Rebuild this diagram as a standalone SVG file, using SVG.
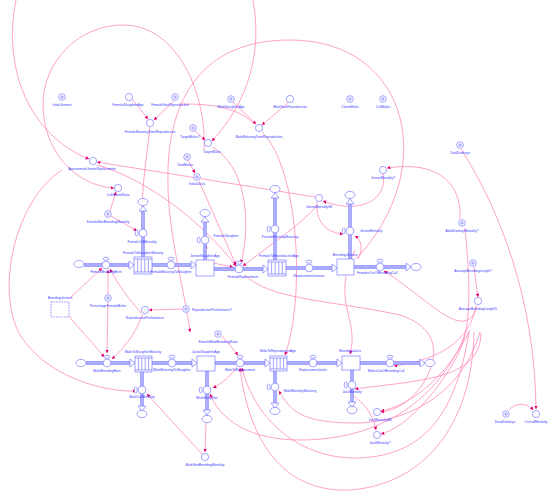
<svg xmlns="http://www.w3.org/2000/svg" width="550" height="501" viewBox="0 0 550 501">
<style>
.c{fill:none;stroke:#ff8cbc;stroke-width:0.8}
.n{fill:#fff;stroke:#7c7cff;stroke-width:0.7}
.pl{fill:none;stroke:#7c7cff;stroke-width:0.7}
.pp{fill:none;stroke:#8686ff;stroke-width:3.4}
.pi{fill:none;stroke:#d0d0ff;stroke-width:1.1}
.ah{fill:#fff;stroke:#7c7cff;stroke-width:0.7}
.t{font-family:"Liberation Sans",Arial,sans-serif;font-size:3.3px;fill:#3a3aff;text-anchor:middle}
.d{fill:#fff;stroke:#6a6aff;stroke-width:0.7;stroke-dasharray:1.6,1}
</style>
<defs>
<marker id="a" viewBox="0 0 4 4" refX="3.8" refY="2" markerWidth="3.6" markerHeight="3.6" markerUnits="userSpaceOnUse" orient="auto"><path d="M0,0L4,2L0,4z" fill="#e6006e"/></marker>
<g id="kon"><circle class="n" r="3.3"/><path class="pl" d="M-2,0H2M0,-2V2"/></g>
<g id="aux"><circle class="n" r="3.6"/></g>
<g id="vh"><circle class="n" r="3.9"/><ellipse class="n" cx="0" cy="-6.3" rx="3" ry="1.5"/></g>
<g id="vv"><circle class="n" r="3.9"/><ellipse class="n" cx="-6.3" cy="0" rx="1.5" ry="3"/></g>
<g id="cl"><ellipse class="n" rx="5" ry="3.6"/></g>
</defs>

<g id="connectors">
<path class="c" marker-end="url(#a)" d="M16,0C2,70 30,135 89,159"/>
<path class="c" marker-end="url(#a)" d="M204,150C207,95 178,25 123,25C79,25 43,61 43,105C43,150 75,186 114,188"/>
<path class="c" marker-end="url(#a)" d="M356,259C440,170 410,40 290,40C205,40 170,95 168,170C166,230 185,290 190,332"/>
<path class="c" marker-end="url(#a)" d="M253,0C262,50 250,100 212,141"/>
<path class="c" marker-end="url(#a)" d="M62,170C15,200 -5,290 20,335C45,375 100,392 136,391"/>
<path class="c" marker-end="url(#a)" d="M110,211L116,192"/>
<path class="c" marker-end="url(#a)" d="M111,216L137,231"/>
<path class="c" marker-end="url(#a)" d="M70,298L102,268"/>
<path class="c" marker-end="url(#a)" d="M108,295L108,270"/>
<path class="c" marker-end="url(#a)" d="M108,302L107,353"/>
<path class="c" marker-end="url(#a)" d="M69,316C80,330 95,345 104,357"/>
<path class="c" marker-end="url(#a)" d="M141,313C130,300 118,285 110,269"/>
<path class="c" marker-end="url(#a)" d="M143,314Q132,342 112,359"/>
<path class="c" marker-end="url(#a)" d="M183,309L149,310"/>
<path class="c" marker-end="url(#a)" d="M97,165C150,180 205,225 236,266"/>
<path class="c" marker-end="url(#a)" d="M315,197L97,162"/>
<path class="c" marker-end="url(#a)" d="M383,174C388,200 360,215 323,201"/>
<path class="c" marker-end="url(#a)" d="M317,202C315,225 330,233 343,234"/>
<path class="c" marker-end="url(#a)" d="M358,259C363,250 362,240 355,236"/>
<path class="c" marker-end="url(#a)" d="M460,219C462,185 440,160 387,168"/>
<path class="c" marker-end="url(#a)" d="M474,267L478,297"/>
<path class="c" marker-end="url(#a)" d="M461,149C500,210 535,300 536,409"/>
<path class="c" marker-end="url(#a)" d="M509,410C516,402 528,403 533,410"/>
<path class="c" marker-end="url(#a)" d="M195,131L205,140"/>
<path class="c" marker-end="url(#a)" d="M188,160L195,173"/>
<path class="c" marker-end="url(#a)" d="M132,99L148,119"/>
<path class="c" marker-end="url(#a)" d="M174,101L154,120"/>
<path class="c" marker-end="url(#a)" d="M233,102L256,124"/>
<path class="c" marker-end="url(#a)" d="M288,103L262,125"/>
<path class="c" d="M180,104C200,104 235,104 254,124"/>
<path class="c" marker-end="url(#a)" d="M262,132C300,170 305,300 285,355"/>
<path class="c" marker-end="url(#a)" d="M150,127C145,170 140,200 143,228"/>
<path class="c" marker-end="url(#a)" d="M199,181L236,265"/>
<path class="c" marker-end="url(#a)" d="M212,147C245,165 252,220 241,263"/>
<path class="c" marker-end="url(#a)" d="M213,263L233,267"/>
<path class="c" marker-end="url(#a)" d="M317,206C300,225 270,245 243,266"/>
<path class="c" marker-end="url(#a)" d="M237,367Q228,380 213,388"/>
<path class="c" marker-end="url(#a)" d="M207,396L205,452"/>
<path class="c" marker-end="url(#a)" d="M202,454L147,394"/>
<path class="c" marker-end="url(#a)" d="M222,336L238,355"/>
<path class="c" marker-end="url(#a)" d="M207,372L207,385"/>
<path class="c" marker-end="url(#a)" d="M205,261L206,245"/>
<path class="c" marker-end="url(#a)" d="M476,306C470,340 440,360 394,366"/>
<path class="c" marker-end="url(#a)" d="M477,306C465,345 430,300 384,271"/>
<path class="c" marker-end="url(#a)" d="M465,228C472,300 470,335 455,360C435,395 405,428 381,434"/>
<path class="c" marker-end="url(#a)" d="M470,330C445,380 410,405 381,411"/>
<path class="c" marker-end="url(#a)" d="M474,332C472,430 420,485 350,490C290,493 250,450 240,368"/>
<path class="c" marker-end="url(#a)" d="M469,332C455,420 420,455 360,458C300,460 255,420 242,368"/>
<path class="c" marker-end="url(#a)" d="M466,332C440,400 380,440 300,440C250,440 220,420 210,394"/>
<path class="c" marker-end="url(#a)" d="M480,332C460,400 400,423 355,423C300,423 290,410 279,391"/>
<path class="c" marker-end="url(#a)" d="M481,333C480,380 420,380 355,389"/>
<path class="c" marker-end="url(#a)" d="M245,275C270,300 330,300 400,315C430,325 440,345 430,370C420,395 400,410 381,412"/>
<path class="c" marker-end="url(#a)" d="M355,250C330,300 360,320 350,354"/>
<path class="c" marker-end="url(#a)" d="M352,395C360,400 372,410 376,430"/>
</g>

<g id="female-chain">
<path class="pp" d="M84,265H131M152,265H193M205,260V221M143,258V209M214,269H265M275,261V196M286,268H334M350,259V202M353,267H408"/>
<path class="pi" d="M84,265H131M152,265H193M205,260V221M143,258V209M214,269H265M275,261V196M286,268H334M350,259V202M353,267H408"/>
<polygon class="ah" points="129,261 134,265 129,269"/>
<polygon class="ah" points="191,261 196,265 191,269"/>
<polygon class="ah" points="201,222 205,217 209,222"/>
<polygon class="ah" points="139,211 143,206 147,211"/>
<polygon class="ah" points="263,265 268,269 263,273"/>
<polygon class="ah" points="271,198 275,193 279,198"/>
<polygon class="ah" points="332,264 337,268 332,272"/>
<polygon class="ah" points="346,204 350,199 354,204"/>
<polygon class="ah" points="406,263 411,267 406,271"/>
</g>
<g id="male-chain">
<path class="pp" d="M86,363H132M152,363H194M207,371V411M142,372V407M215,363H267M275,371V404M287,363H339M352,370V403M360,363H422"/>
<path class="pi" d="M86,363H132M152,363H194M207,371V411M142,372V407M215,363H267M275,371V404M287,363H339M352,370V403M360,363H422"/>
<polygon class="ah" points="130,359 135,363 130,367"/>
<polygon class="ah" points="192,359 197,363 192,367"/>
<polygon class="ah" points="203,410 207,415 211,410"/>
<polygon class="ah" points="138,406 142,411 146,406"/>
<polygon class="ah" points="265,359 270,363 265,367"/>
<polygon class="ah" points="271,403 275,408 279,403"/>
<polygon class="ah" points="337,359 342,363 337,367"/>
<polygon class="ah" points="348,402 352,407 356,402"/>
<polygon class="ah" points="420,359 425,363 420,367"/>
</g>

<g id="clouds">
<use href="#cl" x="79" y="264"/><use href="#cl" x="205" y="213"/><use href="#cl" x="143" y="202"/>
<use href="#cl" x="275" y="189"/><use href="#cl" x="350" y="195"/><use href="#cl" x="416" y="267"/>
<use href="#cl" x="81" y="363"/><use href="#cl" x="207" y="419"/><use href="#cl" x="142" y="414"/>
<use href="#cl" x="275" y="411"/><use href="#cl" x="352" y="410"/><use href="#cl" x="430" y="363"/>
</g>

<g id="FemaleToSlaughterMaturity"><rect class="n" x="134" y="257" width="18" height="17"/><path class="pl" d="M134,259H152M134,272H152M137.6,259V272M141.2,259V272M144.8,259V272M148.4,259V272"/><text class="t" x="143" y="254">FemaleToSlaughterMaturity</text></g>
<g id="JennieSlaughterAge"><rect class="n" x="196" y="260" width="18" height="16"/><text class="t" x="205" y="257">JennieSlaughterAge</text></g>
<g id="FemaleToReproductiveAge"><rect class="n" x="268" y="260" width="18" height="16"/><path class="pl" d="M268,262H286M268,274H286M271.6,262V274M275.2,262V274M278.8,262V274M282.4,262V274"/><text class="t" x="279" y="257">FemaleToReproductiveAge</text></g>
<g id="BreedingJennies"><rect class="n" x="337" y="259" width="17" height="16"/><text class="t" x="345" y="256">BreedingJennies</text></g>
<g id="MaleToSlaughterMaturity"><rect class="n" x="135" y="356" width="17" height="16"/><path class="pl" d="M135,358H152M135,370H152M138.4,358V370M141.8,358V370M145.2,358V370M148.6,358V370"/><text class="t" x="143" y="353">MaleToSlaughterMaturity</text></g>
<g id="JacksSlaughterAge"><rect class="n" x="197" y="356" width="18" height="15"/><text class="t" x="206" y="353">JacksSlaughterAge</text></g>
<g id="MaleToReproductiveAge"><rect class="n" x="270" y="356" width="17" height="15"/><path class="pl" d="M270,358H287M270,369H287M273.4,358V369M276.8,358V369M280.2,358V369M283.6,358V369"/><text class="t" x="278" y="352">MaleToReproductiveAge</text></g>
<g id="BreedingJacks"><rect class="n" x="342" y="356" width="18" height="14"/><text class="t" x="350" y="352">BreedingJacks</text></g>

<g id="FemaleBreedingBorn"><use href="#vh" x="106" y="265"/><text class="t" x="106" y="273">FemaleBreedingBorn</text></g>
<g id="FemaleMaturingToSlaughter"><use href="#vh" x="171" y="265"/><text class="t" x="171" y="273">FemaleMaturingToSlaughter</text></g>
<g id="FemaleSlaughter"><use href="#vv" x="205" y="240"/><text class="t" x="226" y="237">FemaleSlaughter</text></g>
<g id="FemaleCullMortality"><use href="#vv" x="143" y="233"/><text class="t" x="142" y="243">FemaleCullMortality</text></g>
<g id="FemaleReplacement"><use href="#vh" x="239" y="269"/><text class="t" x="243" y="278">FemaleReplacement</text></g>
<g id="FemaleMortalityMaturing"><use href="#vv" x="275" y="229"/><text class="t" x="280" y="238">FemaleMortalityMaturing</text></g>
<g id="ReplacementJennies"><use href="#vh" x="309" y="268"/><text class="t" x="309" y="277">ReplacementJennies</text></g>
<g id="JennieMortality"><use href="#vv" x="350" y="231"/><text class="t" x="371" y="232">JennieMortality</text></g>
<g id="FemalesOutOfBreedingCull"><use href="#vh" x="380" y="267"/><text class="t" x="377" y="274">FemalesOutOfBreedingCull</text></g>

<g id="MaleBreedingBorn"><use href="#vh" x="107" y="363"/><text class="t" x="107" y="372">MaleBreedingBorn</text></g>
<g id="MaleMaturingToSlaughter"><use href="#vh" x="172" y="363"/><text class="t" x="172" y="371">MaleMaturingToSlaughter</text></g>
<g id="MaleSlaughter"><use href="#vv" x="207" y="390"/><text class="t" x="207" y="399">MaleSlaughter</text></g>
<g id="MaleCullMortality"><use href="#vv" x="142" y="390"/><text class="t" x="142" y="398">MaleCullMortality</text></g>
<g id="MaleToReplacement"><use href="#vh" x="240" y="363"/><text class="t" x="240" y="371">MaleToReplacement</text></g>
<g id="MaleMortalityMaturing"><use href="#vv" x="275" y="387"/><text class="t" x="300" y="392">MaleMortalityMaturing</text></g>
<g id="ReplacementJacks"><use href="#vh" x="313" y="363"/><text class="t" x="313" y="371">ReplacementJacks</text></g>
<g id="JackMortality"><use href="#vv" x="352" y="385"/><text class="t" x="352" y="393">JackMortality</text></g>
<g id="MalesOutOfBreedingCull"><use href="#vh" x="390" y="363"/><text class="t" x="386" y="372">MalesOutOfBreedingCull</text></g>

<g id="InitialJennies"><use href="#kon" x="62" y="97"/><text class="t" x="62" y="106">InitialJennies</text></g>
<g id="FemaleSlaughterAge"><use href="#aux" x="129" y="97"/><text class="t" x="128" y="106">FemaleSlaughterAge</text></g>
<g id="FemaleStartReproduction"><use href="#kon" x="175" y="97"/><text class="t" x="170" y="106">FemaleStartReproduction</text></g>
<g id="FemaleMaturingTimeReproduction"><use href="#aux" x="150" y="123"/><text class="t" x="150" y="133">FemaleMaturingTimeReproduction</text></g>
<g id="MaleSlaughterAge"><use href="#kon" x="231" y="99"/><text class="t" x="231" y="108">MaleSlaughterAge</text></g>
<g id="MaleStartReproduction"><use href="#aux" x="290" y="99"/><text class="t" x="290" y="108">MaleStartReproduction</text></g>
<g id="MaleMaturingTimeReproduction"><use href="#aux" x="259" y="128"/><text class="t" x="259" y="138">MaleMaturingTimeReproduction</text></g>
<g id="CleanMales"><use href="#kon" x="350" y="99"/><text class="t" x="350" y="108">CleanMales</text></g>
<g id="CullMales"><use href="#kon" x="383" y="99"/><text class="t" x="383" y="108">CullMales</text></g>
<g id="TargetMalesQ"><use href="#kon" x="193" y="128"/><text class="t" x="190" y="138">TargetMales?</text></g>
<g id="TargetMales"><use href="#aux" x="208" y="143"/><text class="t" x="212" y="153">TargetMales</text></g>
<g id="TotalMales"><use href="#kon" x="187" y="157"/><text class="t" x="185" y="166">TotalMales</text></g>
<g id="InitialJacks"><use href="#kon" x="197" y="177"/><text class="t" x="197" y="185">InitialJacks</text></g>
<g id="ApproximateJennieReplacement"><use href="#aux" x="93" y="161"/><text class="t" x="92" y="170">ApproximateJennieReplacement</text></g>
<g id="CullJennieRatio"><use href="#aux" x="118" y="188"/><text class="t" x="118" y="196">CullJennieRatio</text></g>
<g id="FemaleNonBreedingMortality"><use href="#kon" x="108" y="214"/><text class="t" x="108" y="223">FemaleNonBreedingMortality</text></g>
<g id="BreedingJenniesShadow"><rect class="d" x="51" y="302" width="18" height="15"/><text class="t" x="60" y="299">BreedingJennies</text></g>
<g id="PercentageFemaleBirths"><use href="#kon" x="108" y="298"/><text class="t" x="108" y="307">PercentageFemaleBirths</text></g>
<g id="ReproductivePerformance"><use href="#aux" x="145" y="310"/><text class="t" x="145" y="319">ReproductivePerformance</text></g>
<g id="ReproductivePerformanceQ"><use href="#kon" x="186" y="309"/><text class="t" x="212" y="311">ReproductivePerformance?</text></g>
<g id="FemaleMaleBreedingRatio"><use href="#kon" x="218" y="334"/><text class="t" x="218" y="343">FemaleMaleBreedingRatio</text></g>
<g id="JennieMortalityM"><use href="#aux" x="319" y="198"/><text class="t" x="319" y="208">JennieMortality/M</text></g>
<g id="JennieMortalityQ"><use href="#aux" x="383" y="170"/><text class="t" x="383" y="179">JennieMortality?</text></g>
<g id="AdultDonkeyMortality"><use href="#kon" x="462" y="223"/><text class="t" x="462" y="232">AdultDonkeyMortality?</text></g>
<g id="AverageBreedingLengthQ"><use href="#kon" x="473" y="263"/><text class="t" x="473" y="272">AverageBreedingLength?</text></g>
<g id="AverageBreedingLengthP"><use href="#aux" x="478" y="301"/><text class="t" x="478" y="310">AverageBreedingLength%</text></g>
<g id="TotalDonkeys"><use href="#kon" x="460" y="145"/><text class="t" x="460" y="154">TotalDonkeys</text></g>
<g id="JackMortalityM"><use href="#aux" x="377" y="412"/><text class="t" x="380" y="421">JackMortality/M</text></g>
<g id="JackMortalityQ"><use href="#aux" x="377" y="435"/><text class="t" x="380" y="444">JackMortality?</text></g>
<g id="DeadDonkeys"><use href="#kon" x="506" y="414"/><text class="t" x="505" y="423">DeadDonkeys</text></g>
<g id="OverallMortality"><use href="#aux" x="536" y="414"/><text class="t" x="536" y="423">OverallMortality</text></g>
<g id="MaleNonBreedingMortality"><use href="#aux" x="205" y="457"/><text class="t" x="205" y="466">MaleNonBreedingMortality</text></g>
</svg>
